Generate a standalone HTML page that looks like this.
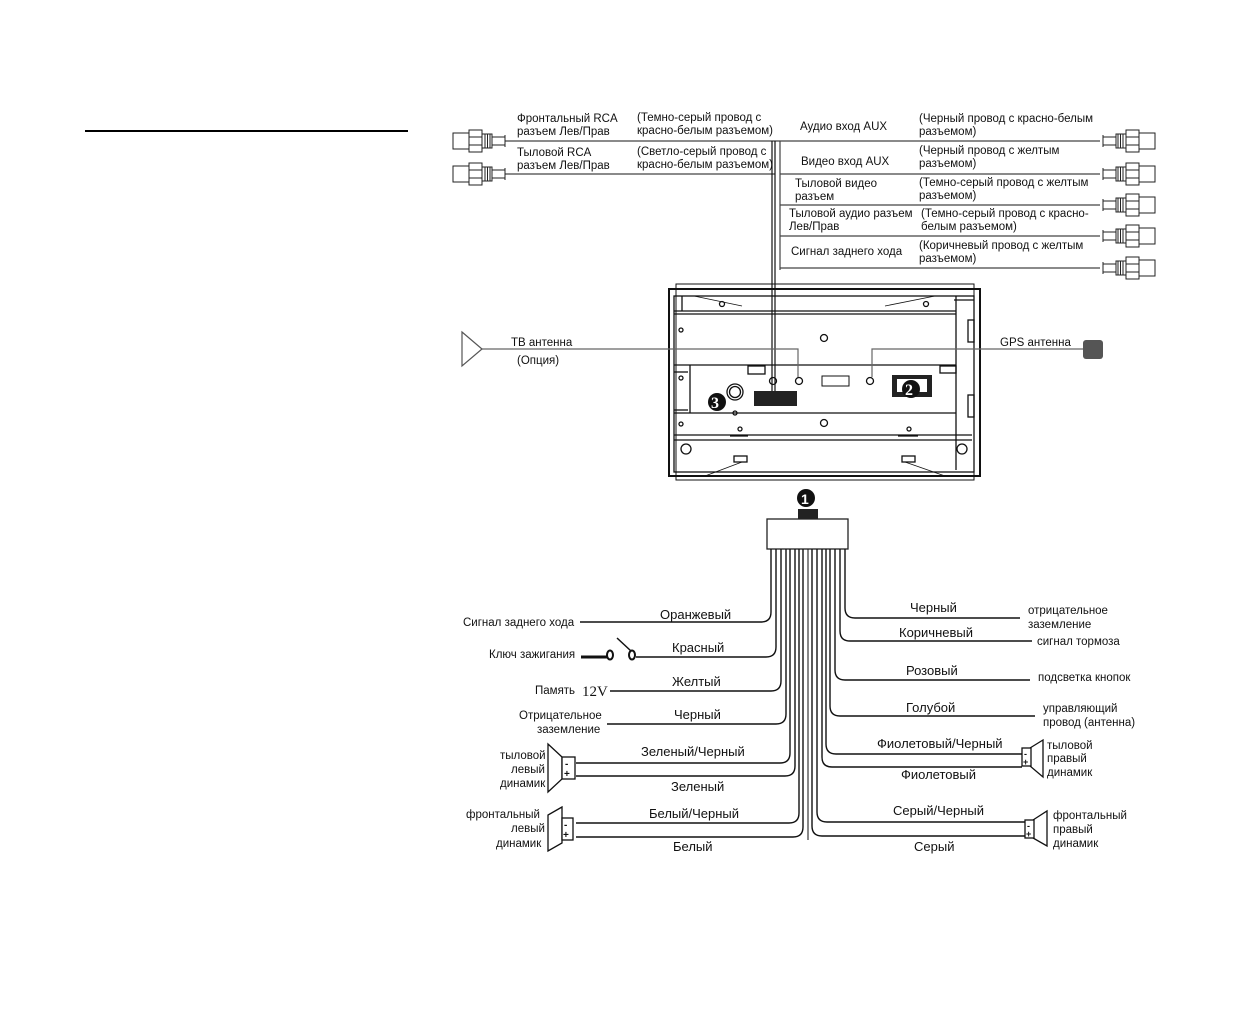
<!DOCTYPE html>
<html><head><meta charset="utf-8"><style>
html,body{margin:0;padding:0;background:#fff;}
svg{display:block;font-family:"Liberation Sans",sans-serif;}
text{font-size:11.5px;fill:#111;}
.lb{font-size:13px;}
</style></head><body>
<svg width="1247" height="1020" viewBox="0 0 1247 1020" xmlns="http://www.w3.org/2000/svg">
<defs>
<g id="rca" fill="#fff" stroke="#222" stroke-width="1">
<rect x="0" y="-8" width="16" height="16"/>
<rect x="16" y="-11" width="13" height="22"/>
<line x1="16" y1="-4" x2="29" y2="-4"/><line x1="16" y1="4" x2="29" y2="4"/>
<rect x="29" y="-7" width="10" height="14"/>
<line x1="32" y1="-7" x2="32" y2="7"/><line x1="34.5" y1="-7" x2="34.5" y2="7"/><line x1="37" y1="-7" x2="37" y2="7"/>
<rect x="39" y="-4" width="13" height="8"/>
<line x1="52" y1="-6" x2="52" y2="6"/>
</g>
</defs>
<line x1="85" y1="131" x2="408" y2="131" stroke="#000" stroke-width="2"/>

<!-- top wiring -->
<g stroke="#444" stroke-width="1.2" fill="none">
<line x1="505" y1="141" x2="1100" y2="141"/>
<line x1="505" y1="174" x2="775" y2="174"/>
<line x1="780" y1="174" x2="1100" y2="174"/>
<line x1="780" y1="205" x2="1100" y2="205"/>
<line x1="780" y1="236" x2="1100" y2="236"/>
<line x1="780" y1="268" x2="1100" y2="268"/>
<line x1="772" y1="141" x2="772" y2="392" stroke="#111"/>
<line x1="775" y1="141" x2="775" y2="392" stroke="#111"/>
<line x1="780" y1="141" x2="780" y2="270"/>
</g>
<use href="#rca" transform="translate(453,141)"/>
<use href="#rca" transform="translate(453,174)"/>
<use href="#rca" transform="translate(1155,141) scale(-1,1)"/>
<use href="#rca" transform="translate(1155,174) scale(-1,1)"/>
<use href="#rca" transform="translate(1155,205) scale(-1,1)"/>
<use href="#rca" transform="translate(1155,236) scale(-1,1)"/>
<use href="#rca" transform="translate(1155,268) scale(-1,1)"/>

<text x="517" y="122">Фронтальный RCA</text>
<text x="517" y="135">разъем Лев/Прав</text>
<text x="637" y="121">(Темно-серый провод с</text>
<text x="637" y="134">красно-белым разъемом)</text>
<text x="517" y="156">Тыловой RCA</text>
<text x="517" y="169">разъем Лев/Прав</text>
<text x="637" y="155">(Светло-серый провод с</text>
<text x="637" y="168">красно-белым разъемом)</text>
<text x="800" y="130">Аудио вход AUX</text>
<text x="919" y="122">(Черный провод с красно-белым</text>
<text x="919" y="135">разъемом)</text>
<text x="801" y="165">Видео вход AUX</text>
<text x="919" y="154">(Черный провод с желтым</text>
<text x="919" y="167">разъемом)</text>
<text x="795" y="187">Тыловой видео</text>
<text x="795" y="200">разъем</text>
<text x="919" y="186">(Темно-серый провод с желтым</text>
<text x="919" y="199">разъемом)</text>
<text x="789" y="217">Тыловой аудио разъем</text>
<text x="789" y="230">Лев/Прав</text>
<text x="921" y="217">(Темно-серый провод с красно-</text>
<text x="921" y="230">белым разъемом)</text>
<text x="791" y="255">Сигнал заднего хода</text>
<text x="919" y="249">(Коричневый провод с желтым</text>
<text x="919" y="262">разъемом)</text>

<!-- device -->
<g fill="none" stroke="#111" stroke-width="1.3">
<rect x="676" y="284" width="298" height="196" stroke-width="1"/>
<rect x="669" y="289" width="311" height="187" stroke-width="2"/>
<rect x="674" y="296" width="300" height="176"/>
<line x1="674" y1="311" x2="956" y2="311"/>
<line x1="674" y1="314" x2="956" y2="314"/>
<line x1="682" y1="296" x2="682" y2="311"/>
<line x1="956" y1="296" x2="956" y2="470"/>
<line x1="954" y1="300" x2="974" y2="300"/>
<line x1="674" y1="365" x2="956" y2="365"/>
<line x1="674" y1="413" x2="956" y2="413"/>
<line x1="674" y1="435" x2="972" y2="435"/>
<line x1="674" y1="440" x2="972" y2="440"/>
<line x1="690" y1="365" x2="690" y2="413"/>
<line x1="674" y1="372" x2="688" y2="372"/>
<line x1="674" y1="410" x2="688" y2="410"/>
<rect x="968" y="320" width="6" height="22"/>
<rect x="968" y="395" width="6" height="22"/>
<rect x="748" y="366" width="17" height="8"/>
<rect x="940" y="366" width="16" height="7"/>
<rect x="822" y="376" width="27" height="10" stroke-width="1"/>
<rect x="734" y="456" width="13" height="6"/>
<rect x="902" y="456" width="13" height="6"/>
<line x1="730" y1="436" x2="748" y2="436"/>
<line x1="898" y1="436" x2="918" y2="436"/>
<line x1="694" y1="296" x2="742" y2="306" stroke-width="0.8"/>
<line x1="885" y1="306" x2="935" y2="296" stroke-width="0.8"/>
<line x1="705" y1="476" x2="742" y2="462" stroke-width="0.8"/>
<line x1="905" y1="462" x2="945" y2="476" stroke-width="0.8"/>
<circle cx="722" cy="304" r="2.5"/><circle cx="926" cy="304" r="2.5"/>
<circle cx="681" cy="330" r="2"/><circle cx="824" cy="338" r="3.5"/>
<circle cx="681" cy="378" r="2"/><circle cx="681" cy="424" r="2"/>
<circle cx="773" cy="381" r="3.5"/><circle cx="799" cy="381" r="3.5"/><circle cx="870" cy="381" r="3.5"/>
<circle cx="824" cy="423" r="3.5"/><circle cx="740" cy="429" r="2"/><circle cx="909" cy="429" r="2"/>
<circle cx="686" cy="449" r="5"/><circle cx="962" cy="449" r="5"/>
<circle cx="735" cy="392" r="8"/><circle cx="735" cy="392" r="5.5"/>
<circle cx="735" cy="413" r="2"/>
</g>
<rect x="754" y="391" width="43" height="15" fill="#222"/>
<rect x="892" y="375" width="40" height="22" fill="#222"/>
<rect x="897" y="379" width="30" height="13" fill="#fff"/>
<circle cx="911" cy="389" r="9" fill="#111"/>
<text x="905" y="395" style="font-size:16px;fill:#fff;font-family:'Liberation Serif',serif;font-weight:bold">2</text>
<circle cx="717" cy="402" r="9" fill="#111"/>
<text x="711" y="408" style="font-size:16px;fill:#fff;font-family:'Liberation Serif',serif;font-weight:bold">3</text>

<!-- antennas -->
<g stroke="#666" stroke-width="1.2" fill="none">
<polyline points="482,349 798,349 798,377"/>
<polyline points="1085,349 872,349 872,377"/>
<polygon points="462,332 482,349 462,366" stroke="#555"/>
</g>
<rect x="1083" y="340" width="20" height="19" rx="3" fill="#555"/>
<text x="511" y="346">ТВ антенна</text>
<text x="517" y="364">(Опция)</text>
<text x="1000" y="346">GPS антенна</text>

<!-- connector block -->
<circle cx="806" cy="498" r="9" fill="#111"/>
<text x="801" y="504" style="font-size:14px;fill:#fff;font-weight:bold">1</text>
<rect x="798" y="509" width="20" height="10" fill="#222"/>
<rect x="767" y="519" width="81" height="30" fill="#fff" stroke="#222" stroke-width="1.3"/>

<g stroke="#111" stroke-width="1.4" fill="none">
<path d="M771 549 V612 Q771 622 761 622 H580"/>
<path d="M776 549 V647 Q776 657 766 657 H636"/>
<path d="M781 549 V681 Q781 691 771 691 H610"/>
<path d="M786 549 V714 Q786 724 776 724 H607"/>
<path d="M790 549 V753 Q790 763 780 763 H576"/>
<path d="M795 549 V766 Q795 776 785 776 H576"/>
<path d="M799 549 V813 Q799 823 789 823 H576"/>
<path d="M803 549 V827 Q803 837 793 837 H576"/>
<path d="M845 549 V608 Q845 618 855 618 H1020"/>
<path d="M840 549 V631 Q840 641 850 641 H1032"/>
<path d="M835 549 V670 Q835 680 845 680 H1030"/>
<path d="M830 549 V706 Q830 716 840 716 H1035"/>
<path d="M826 549 V744 Q826 754 836 754 H1022"/>
<path d="M822 549 V757 Q822 767 832 767 H1022"/>
<path d="M817 549 V812 Q817 822 827 822 H1025"/>
<path d="M812 549 V826 Q812 836 822 836 H1025"/>
<line x1="808" y1="549" x2="808" y2="840" stroke-width="1"/>
</g>
<!-- ignition switch -->
<g stroke="#111" stroke-width="2" fill="none">
<line x1="581" y1="657" x2="607" y2="657" stroke-width="3"/>
<ellipse cx="610" cy="655" rx="3" ry="4.5"/>
<ellipse cx="632" cy="655" rx="3" ry="4.5"/>
<line x1="617" y1="638" x2="631" y2="651" stroke-width="1.5"/>
</g>

<!-- speakers -->
<g fill="#fff" stroke="#111" stroke-width="1.3">
<polygon points="562,757 548,744 548,792 562,779"/>
<rect x="562" y="757" width="13" height="22"/>
<polygon points="562,807 548,815 548,851 562,843"/>
<rect x="562" y="818" width="11" height="22"/>
<polygon points="1030,748 1043,740 1043,777 1030,766"/>
<rect x="1022" y="748" width="9" height="18"/>
<polygon points="1033,820 1047,811 1047,846 1033,838"/>
<rect x="1025" y="820" width="9" height="18"/>
</g>
<g style="font-size:10px;font-weight:bold">
<text x="565" y="767" style="font-size:10px">-</text><text x="564" y="777" style="font-size:10px">+</text>
<text x="564" y="828" style="font-size:10px">-</text><text x="563" y="838" style="font-size:10px">+</text>
<text x="1024" y="757" style="font-size:9px">-</text><text x="1023" y="765" style="font-size:9px">+</text>
<text x="1027" y="829" style="font-size:9px">-</text><text x="1026" y="837" style="font-size:9px">+</text>
</g>

<!-- bottom labels -->
<text class="lb" x="660" y="619">Оранжевый</text>
<text class="lb" x="672" y="652">Красный</text>
<text class="lb" x="672" y="686">Желтый</text>
<text class="lb" x="674" y="719">Черный</text>
<text class="lb" x="641" y="756">Зеленый/Черный</text>
<text class="lb" x="671" y="791">Зеленый</text>
<text class="lb" x="649" y="818">Белый/Черный</text>
<text class="lb" x="673" y="851">Белый</text>
<text class="lb" x="910" y="612">Черный</text>
<text class="lb" x="899" y="637">Коричневый</text>
<text class="lb" x="906" y="675">Розовый</text>
<text class="lb" x="906" y="712">Голубой</text>
<text class="lb" x="877" y="748">Фиолетовый/Черный</text>
<text class="lb" x="901" y="779">Фиолетовый</text>
<text class="lb" x="893" y="815">Серый/Черный</text>
<text class="lb" x="914" y="851">Серый</text>

<text x="463" y="626">Сигнал заднего хода</text>
<text x="489" y="658">Ключ зажигания</text>
<text x="535" y="694">Память</text>
<text x="582" y="696" style="font-family:'Liberation Serif',serif;font-size:15px">12V</text>
<text x="519" y="719">Отрицательное</text>
<text x="537" y="733">заземление</text>
<text x="500" y="759">тыловой</text>
<text x="511" y="773">левый</text>
<text x="500" y="787">динамик</text>
<text x="466" y="818">фронтальный</text>
<text x="511" y="832">левый</text>
<text x="496" y="847">динамик</text>

<text x="1028" y="614">отрицательное</text>
<text x="1028" y="628">заземление</text>
<text x="1037" y="645">сигнал тормоза</text>
<text x="1038" y="681">подсветка кнопок</text>
<text x="1043" y="712">управляющий</text>
<text x="1043" y="726">провод (антенна)</text>
<text x="1047" y="749">тыловой</text>
<text x="1047" y="762">правый</text>
<text x="1047" y="776">динамик</text>
<text x="1053" y="819">фронтальный</text>
<text x="1053" y="833">правый</text>
<text x="1053" y="847">динамик</text>
</svg>
</body></html>
